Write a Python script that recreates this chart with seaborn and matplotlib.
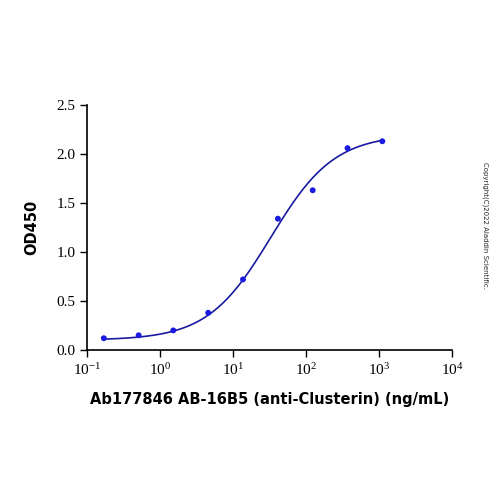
import numpy as np
import matplotlib
matplotlib.use("Agg")
import matplotlib.pyplot as plt
import seaborn as sns

conc = [0.17, 0.51, 1.52, 4.57, 13.7, 41.2, 123.5, 370.4, 1111.1]
od = [0.12, 0.15, 0.20, 0.38, 0.72, 1.34, 1.63, 2.06, 2.13]
# 4PL fit parameters (bottom, top, EC50, hill)
fit_bottom, fit_top, fit_ec50, fit_hill = 0.10, 2.20, 33.0, 1.0

sns.set_style("ticks")
fig = plt.figure(figsize=(5, 5), dpi=100)
ax = fig.add_axes([0.174, 0.30, 0.73, 0.49])
xs = np.logspace(np.log10(conc[0]), np.log10(conc[-1]), 300)
ys = fit_bottom + (fit_top - fit_bottom) / (1 + (fit_ec50 / xs) ** fit_hill)
sns.lineplot(x=xs, y=ys, ax=ax, color="#1a1aa0", lw=1.2)
sns.scatterplot(x=conc, y=od, ax=ax, color="#1a1ae0", s=18, edgecolor="none", zorder=3)
ax.set_xscale("log")
ax.set_xlim(0.1, 1e4)
ax.set_ylim(0, 2.5)
ax.set_yticks([0, 0.5, 1.0, 1.5, 2.0, 2.5])
ax.set_yticklabels(["0.0", "0.5", "1.0", "1.5", "2.0", "2.5"])
ax.minorticks_off()
ax.set_xticks([0.1, 1, 10, 100, 1000, 10000])
for lab in ax.get_xticklabels() + ax.get_yticklabels():
    lab.set_family("Liberation Serif")
    lab.set_fontsize(11)
ax.tick_params(length=5, width=1, color="black", labelcolor="black")
sns.despine(ax=ax)
for s in ["left", "bottom"]:
    ax.spines[s].set_linewidth(1.2)
    ax.spines[s].set_color("black")
ax.set_xlabel("Ab177846 AB-16B5 (anti-Clusterin) (ng/mL)", fontsize=10.5, fontweight="bold", labelpad=10, color="black")
ax.set_ylabel("OD450", fontsize=10.5, fontweight="bold", labelpad=12, color="black")
fig.text(0.97, 0.55, "Copyright(C)2022 Aladdin Scientific.", rotation=270, fontsize=5, ha="center", va="center")
fig.savefig("out.png", dpi=100)
